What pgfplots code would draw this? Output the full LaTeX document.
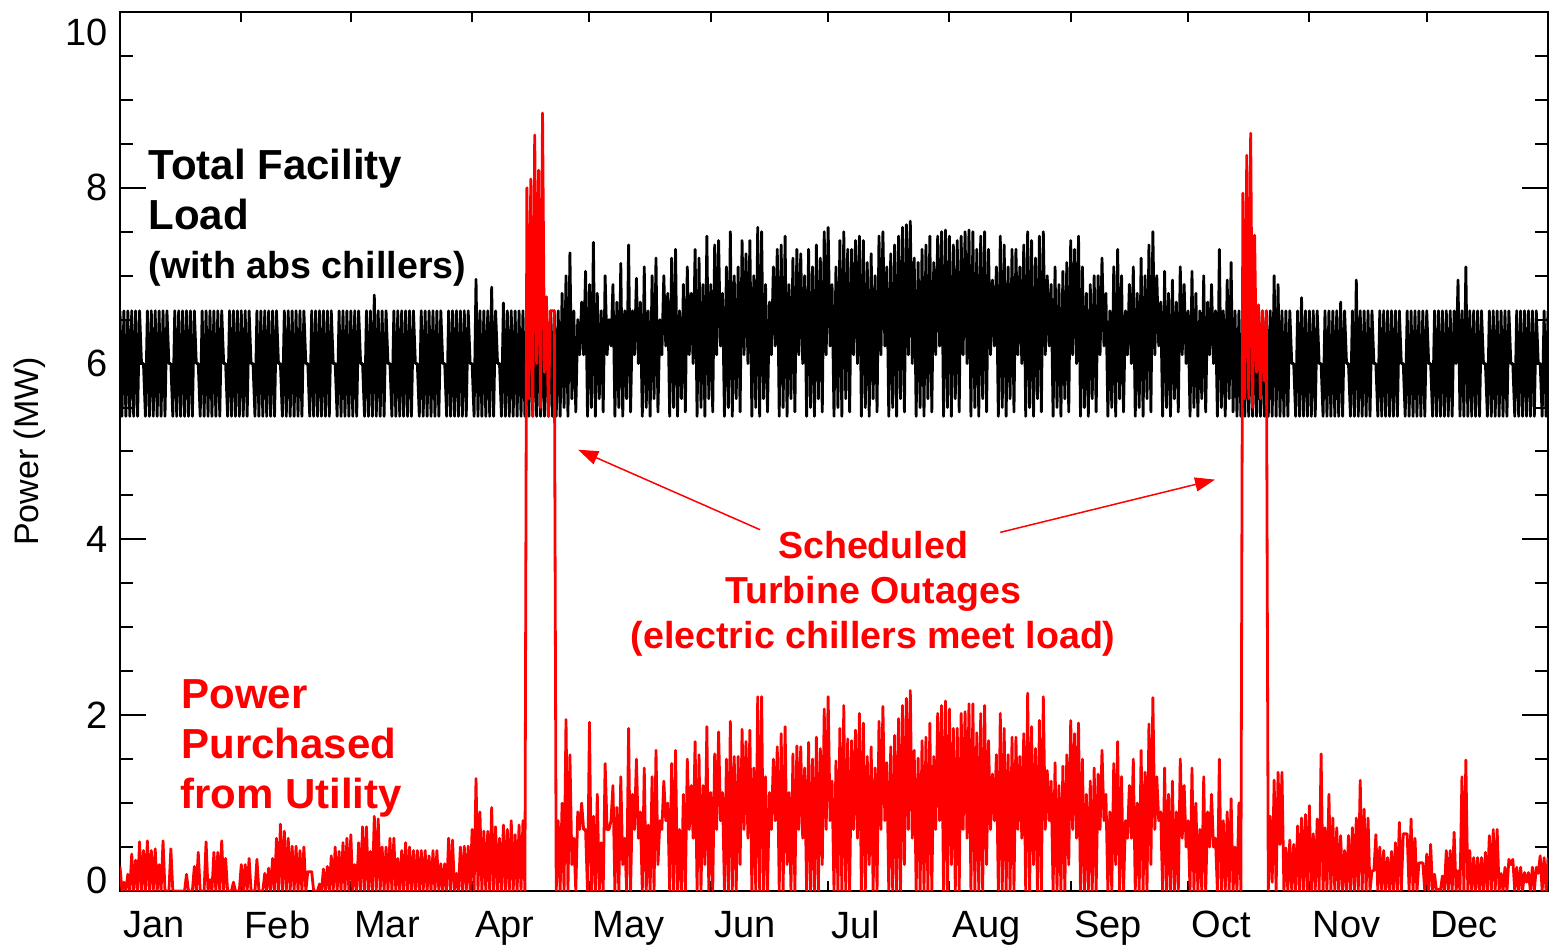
\documentclass[border=0pt]{standalone}
\usepackage{fontspec}
\setmainfont{Liberation Sans}
\usepackage{pgfplots}
\pgfplotsset{compat=1.18}
\usepackage{pgfplotstable}
\usetikzlibrary{arrows.meta}
% half-day samples: row 2d = day d (daily peak), row 2d+1 = day d+0.5 (night)
% b = total facility load (MW), r = power purchased from utility (MW)
\pgfplotstableread[row sep=\\]{
b r\\
6.6 0.28\\ 5.4 0\\
6.6 0.1\\ 5.4 0\\
6.6 0.19\\ 5.4 0\\
6.6 0.42\\ 5.4 0\\
6.6 0.35\\ 5.4 0\\
6.6 0.56\\ 6.0 0\\
6.0 0.46\\ 5.4 0\\
6.6 0.57\\ 5.4 0\\
6.6 0.46\\ 5.4 0\\
6.6 0.48\\ 5.4 0\\
6.6 0.3\\ 5.4 0\\
6.6 0.57\\ 5.4 0\\
6.6 0\\ 6.0 0\\
6.0 0.48\\ 5.4 0\\
6.6 0\\ 5.4 0\\
6.6 0\\ 5.4 0\\
6.6 0\\ 5.4 0\\
6.6 0.19\\ 5.4 0\\
6.6 0\\ 5.4 0\\
6.6 0.28\\ 6.0 0\\
6.0 0.44\\ 5.4 0\\
6.6 0\\ 5.4 0\\
6.6 0.56\\ 5.4 0\\
6.6 0.13\\ 5.4 0\\
6.6 0.44\\ 5.4 0\\
6.6 0.44\\ 5.4 0\\
6.6 0.57\\ 6.0 0\\
6.0 0.37\\ 5.4 0\\
6.6 0\\ 5.4 0\\
6.6 0.1\\ 5.4 0\\
6.6 0\\ 5.4 0\\
6.6 0.3\\ 5.4 0\\
6.6 0.3\\ 5.4 0\\
6.6 0.37\\ 6.0 0\\
6.0 0\\ 5.4 0\\
6.6 0.36\\ 5.4 0\\
6.6 0\\ 5.4 0\\
6.6 0.2\\ 5.4 0\\
6.6 0.26\\ 5.4 0\\
6.6 0.37\\ 5.4 0\\
6.6 0.6\\ 6.0 0\\
6.0 0.76\\ 5.4 0\\
6.6 0.68\\ 5.4 0\\
6.6 0.6\\ 5.4 0\\
6.6 0.51\\ 5.4 0\\
6.6 0.51\\ 5.4 0\\
6.6 0.46\\ 5.4 0\\
6.6 0.5\\ 6.0 0\\
6.0 0.22\\ 5.4 0.22\\
6.6 0.22\\ 5.4 0\\
6.6 0\\ 5.4 0\\
6.6 0.08\\ 5.4 0\\
6.6 0.25\\ 5.4 0\\
6.6 0.28\\ 5.4 0\\
6.6 0.4\\ 6.0 0\\
6.0 0.5\\ 5.4 0\\
6.6 0.45\\ 5.4 0\\
6.6 0.55\\ 5.4 0\\
6.6 0.6\\ 5.4 0\\
6.6 0.64\\ 5.4 0\\
6.6 0.3\\ 5.4 0\\
6.6 0.55\\ 6.0 0\\
6.0 0.73\\ 5.4 0\\
6.6 0.73\\ 5.4 0\\
6.6 0.45\\ 5.4 0\\
6.78 0.85\\ 5.4 0\\
6.6 0.82\\ 5.4 0\\
6.6 0.5\\ 5.4 0\\
6.6 0.5\\ 6.0 0\\
6.0 0.6\\ 5.4 0\\
6.6 0.6\\ 5.4 0\\
6.6 0.37\\ 5.4 0\\
6.6 0.46\\ 5.4 0\\
6.6 0.55\\ 5.4 0\\
6.6 0.5\\ 5.4 0\\
6.6 0.46\\ 6.0 0\\
6.0 0.46\\ 5.4 0\\
6.6 0.46\\ 5.4 0\\
6.6 0.46\\ 5.4 0\\
6.6 0.4\\ 5.4 0\\
6.6 0.46\\ 5.4 0\\
6.6 0.46\\ 5.4 0\\
6.6 0.31\\ 6.0 0\\
6.0 0.31\\ 5.4 0\\
6.6 0.6\\ 5.4 0\\
6.6 0.58\\ 5.4 0\\
6.6 0.2\\ 5.4 0\\
6.6 0.5\\ 5.4 0\\
6.6 0.51\\ 5.4 0\\
6.6 0.51\\ 6.0 0\\
6.0 0.7\\ 5.4 0\\
6.96 1.28\\ 5.4 0\\
6.6 0.9\\ 5.4 0\\
6.6 0.68\\ 5.4 0\\
6.6 0.68\\ 5.4 0\\
6.87 0.95\\ 5.4 0\\
6.6 0.73\\ 6.0 0\\
6.0 0.6\\ 5.4 0\\
6.69 0.75\\ 5.4 0\\
6.6 0.7\\ 5.4 0\\
6.6 0.8\\ 5.4 0\\
6.6 0.64\\ 5.4 0\\
6.6 0.75\\ 5.4 0\\
6.6 0.8\\ 5.4 0\\
6.6 8.0\\ 5.4 5.6\\
6.6 8.1\\ 5.4 5.4\\
6.6 8.6\\ 5.4 6.0\\
6.6 8.2\\ 5.4 5.5\\
6.6 8.85\\ 5.4 5.9\\
6.6 6.76\\ 5.4 5.4\\
6.6 6.6\\ 5.4 6.6\\
6.6 6.6\\ 5.4 0\\
6.6 0.8\\ 5.4 0\\
6.8 1.0\\ 5.5 0\\
7.0 1.95\\ 5.4 0\\
7.26 1.55\\ 5.6 0.3\\
6.6 0.6\\ 5.45 0\\
6.5 0.9\\ 6.1 0.7\\
6.7 1.0\\ 6.1 0.7\\
7.05 0.7\\ 5.4 0\\
6.9 1.92\\ 5.5 0\\
7.38 0.85\\ 5.4 0\\
6.8 1.1\\ 5.6 0\\
6.6 0.55\\ 5.45 0\\
7.0 1.45\\ 6.1 0.7\\
6.5 0.7\\ 6.2 0.8\\
6.9 1.2\\ 5.4 0\\
6.7 0.95\\ 5.5 0\\
7.14 1.3\\ 5.4 0.3\\
6.6 0.6\\ 5.6 0\\
7.35 1.85\\ 5.45 0\\
6.6 1.1\\ 6.1 0.7\\
6.97 1.5\\ 6.0 0.6\\
6.7 0.9\\ 5.4 0\\
7.1 1.4\\ 5.5 0\\
6.6 0.75\\ 5.4 0\\
7.0 1.3\\ 5.6 0\\
7.2 1.6\\ 5.45 0.3\\
6.5 0.8\\ 6.1 0.7\\
7.0 1.25\\ 6.2 0.8\\
6.8 1.0\\ 5.4 0\\
7.2 1.45\\ 5.5 0\\
7.3 1.6\\ 5.4 0\\
6.6 0.7\\ 5.6 0\\
6.9 1.1\\ 5.45 0\\
7.1 1.5\\ 6.1 0.7\\
6.8 1.2\\ 6.0 0.6\\
7.3 1.7\\ 5.4 0\\
7.2 1.55\\ 5.5 0\\
6.9 1.2\\ 5.4 0.3\\
7.45 1.87\\ 5.6 0\\
6.9 1.12\\ 5.45 0\\
7.35 1.56\\ 6.1 0.7\\
7.4 1.81\\ 6.2 0.8\\
6.8 1.12\\ 5.4 0\\
7.1 1.5\\ 5.5 0\\
7.5 1.93\\ 5.4 0\\
7.0 1.53\\ 5.6 0\\
7.1 1.53\\ 5.45 0.3\\
7.4 1.84\\ 6.1 0.7\\
7.25 1.7\\ 6.0 0.6\\
7.4 1.83\\ 5.4 0\\
7.0 1.4\\ 5.5 0\\
7.55 2.21\\ 5.4 0\\
7.5 2.21\\ 5.6 0\\
6.9 1.3\\ 5.45 0\\
6.7 1.12\\ 6.1 0.7\\
7.1 1.5\\ 6.2 0.8\\
7.3 1.64\\ 5.4 0\\
7.35 1.79\\ 5.5 0\\
7.45 1.87\\ 5.4 0.3\\
6.9 1.12\\ 5.6 0\\
7.2 1.56\\ 5.45 0\\
7.3 1.65\\ 6.1 0.7\\
7.25 1.64\\ 6.0 0.6\\
7.0 1.4\\ 5.4 0\\
7.3 1.69\\ 5.5 0\\
7.1 1.5\\ 5.4 0\\
7.35 1.75\\ 5.6 0\\
7.2 1.62\\ 5.45 0.3\\
7.5 2.07\\ 6.1 0.7\\
7.55 2.21\\ 6.2 0.8\\
6.9 1.25\\ 5.4 0\\
7.1 1.48\\ 5.5 0\\
7.4 1.85\\ 5.4 0\\
7.5 2.11\\ 5.6 0\\
7.3 1.73\\ 5.45 0\\
7.3 1.71\\ 6.1 0.7\\
7.4 1.83\\ 6.0 0.6\\
7.45 2.02\\ 5.4 0\\
7.4 1.91\\ 5.5 0\\
7.15 1.53\\ 5.4 0.3\\
7.25 1.64\\ 5.6 0\\
7.0 1.4\\ 5.45 0\\
7.45 1.93\\ 6.1 0.7\\
7.5 2.1\\ 6.2 0.8\\
7.1 1.46\\ 5.4 0\\
7.25 1.64\\ 5.5 0\\
7.35 1.77\\ 5.4 0\\
7.45 1.96\\ 5.6 0\\
7.55 2.11\\ 5.45 0.3\\
7.58 2.19\\ 6.1 0.7\\
7.62 2.28\\ 6.0 0.6\\
7.2 1.6\\ 5.4 0\\
7.15 1.51\\ 5.5 0\\
7.3 1.71\\ 5.4 0\\
7.35 1.75\\ 5.6 0\\
7.45 1.91\\ 5.45 0\\
7.15 1.53\\ 6.1 0.7\\
7.45 2.02\\ 6.2 0.8\\
7.5 2.11\\ 5.4 0\\
7.52 2.16\\ 5.5 0\\
7.45 2.07\\ 5.4 0.3\\
7.35 1.85\\ 5.6 0\\
7.4 1.85\\ 5.45 0\\
7.45 2.02\\ 6.1 0.7\\
7.5 2.04\\ 6.0 0.6\\
7.52 2.13\\ 5.4 0\\
7.5 2.13\\ 5.5 0\\
7.3 1.8\\ 5.4 0\\
7.45 2.02\\ 5.6 0\\
7.5 2.11\\ 5.45 0.3\\
7.3 1.71\\ 6.1 0.7\\
6.95 1.33\\ 6.2 0.8\\
7.1 1.55\\ 5.4 0\\
7.45 2.02\\ 5.5 0\\
7.35 1.85\\ 5.4 0\\
7.1 1.55\\ 5.6 0\\
7.3 1.75\\ 5.45 0\\
7.3 1.75\\ 6.1 0.7\\
7.1 1.53\\ 6.0 0.6\\
7.35 1.79\\ 5.4 0\\
7.5 2.25\\ 5.5 0\\
7.4 1.87\\ 5.4 0.3\\
7.2 1.62\\ 5.6 0\\
7.45 1.94\\ 5.45 0\\
7.5 2.21\\ 6.1 0.7\\
7.0 1.37\\ 6.2 0.8\\
6.9 1.25\\ 5.4 0\\
7.1 1.46\\ 5.5 0\\
6.9 1.2\\ 5.4 0\\
7.05 1.42\\ 5.6 0\\
7.15 1.55\\ 5.45 0.3\\
7.4 1.94\\ 6.1 0.7\\
7.3 1.79\\ 6.0 0.6\\
7.45 1.91\\ 5.4 0\\
7.1 1.5\\ 5.5 0\\
6.8 1.1\\ 5.4 0\\
6.9 1.25\\ 5.6 0\\
7.0 1.4\\ 5.45 0\\
7.0 1.33\\ 6.1 0.7\\
7.2 1.6\\ 6.2 0.8\\
6.8 1.1\\ 5.4 0\\
6.6 0.9\\ 5.5 0\\
7.1 1.45\\ 5.4 0.3\\
7.3 1.7\\ 5.6 0\\
7.0 1.3\\ 5.45 0\\
6.6 0.8\\ 6.1 0.6\\
6.9 1.2\\ 6.0 0.6\\
7.1 1.5\\ 5.4 0\\
6.8 1.0\\ 5.5 0\\
7.2 1.6\\ 5.4 0\\
7.0 1.35\\ 5.6 0\\
7.35 1.9\\ 5.45 0.3\\
7.5 2.2\\ 6.1 0.7\\
7.0 1.3\\ 6.2 0.8\\
6.7 0.9\\ 5.4 0\\
7.05 1.4\\ 5.5 0\\
6.8 1.1\\ 5.4 0\\
6.95 1.25\\ 5.6 0\\
6.7 0.9\\ 5.45 0\\
7.1 1.5\\ 6.1 0.6\\
6.9 1.2\\ 6.0 0.5\\
6.6 0.8\\ 5.4 0\\
7.05 1.4\\ 5.5 0\\
6.8 1.0\\ 5.4 0\\
6.6 0.7\\ 5.6 0\\
7.0 1.3\\ 5.45 0\\
6.7 0.9\\ 6.1 0.5\\
6.9 1.1\\ 6.0 0.5\\
6.6 0.6\\ 5.4 0\\
7.3 1.5\\ 5.5 0\\
6.6 0.8\\ 5.4 0\\
6.95 0.9\\ 5.6 0\\
7.15 1.05\\ 5.45 0\\
6.6 0.5\\ 5.4 0\\
6.6 1.0\\ 5.4 0\\
6.6 7.94\\ 5.4 5.6\\
6.6 8.37\\ 5.4 5.6\\
6.6 8.62\\ 5.4 5.5\\
6.6 7.46\\ 5.4 5.9\\
6.6 6.67\\ 5.4 5.6\\
6.6 6.6\\ 5.4 5.8\\
6.6 6.6\\ 5.4 0\\
6.6 0.85\\ 5.4 0.1\\
7.0 1.26\\ 5.4 0\\
6.9 1.35\\ 5.4 0.53\\
6.6 1.35\\ 5.4 0\\
6.6 0.49\\ 5.4 0\\
6.6 0.58\\ 6.0 0\\
6.0 0.53\\ 5.4 0\\
6.6 0.74\\ 5.4 0\\
6.75 0.83\\ 5.4 0\\
6.6 0.87\\ 5.4 0\\
6.6 0.97\\ 5.4 0\\
6.6 0.65\\ 5.4 0\\
6.6 0.82\\ 6.0 0\\
6.0 1.56\\ 5.4 0\\
6.6 0.72\\ 5.4 0\\
6.6 1.1\\ 5.4 0\\
6.6 0.83\\ 5.4 0\\
6.6 0.72\\ 5.4 0\\
6.7 0.63\\ 5.4 0\\
6.6 0.46\\ 6.0 0\\
6.0 0.63\\ 5.4 0\\
6.6 0.72\\ 5.4 0\\
6.95 0.83\\ 5.4 0\\
6.6 1.26\\ 5.4 0\\
6.6 0.93\\ 5.4 0\\
6.6 0.83\\ 5.4 0\\
6.6 0.23\\ 6.0 0.23\\
6.0 0.64\\ 5.4 0\\
6.6 0.5\\ 5.4 0\\
6.6 0.46\\ 5.4 0\\
6.6 0.38\\ 5.4 0\\
6.6 0.45\\ 5.4 0\\
6.6 0.55\\ 5.4 0\\
6.6 0.78\\ 6.0 0\\
6.0 0.65\\ 5.4 0.65\\
6.6 0.65\\ 5.4 0\\
6.6 0.82\\ 5.4 0\\
6.6 0.6\\ 5.4 0\\
6.6 0.32\\ 5.4 0.32\\
6.6 0.32\\ 5.4 0\\
6.6 0.42\\ 6.0 0\\
6.0 0.53\\ 5.4 0\\
6.6 0.19\\ 5.4 0\\
6.6 0.02\\ 5.4 0\\
6.6 0.17\\ 5.4 0\\
6.6 0.46\\ 5.4 0\\
6.6 0.46\\ 5.4 0\\
6.6 0.67\\ 6.0 0\\
6.95 0.23\\ 5.4 0\\
6.6 1.3\\ 5.4 0\\
7.1 1.49\\ 5.4 0\\
6.6 0.46\\ 5.4 0\\
6.6 0.38\\ 5.4 0\\
6.6 0.38\\ 5.4 0\\
6.6 0.38\\ 6.0 0\\
6.0 0.44\\ 5.4 0\\
6.6 0.63\\ 5.4 0\\
6.6 0.7\\ 5.4 0\\
6.6 0.7\\ 5.4 0\\
6.6 0.2\\ 5.4 0\\
6.6 0.27\\ 5.4 0\\
6.6 0.36\\ 6.0 0.3\\
6.0 0.36\\ 5.4 0\\
6.6 0.27\\ 5.4 0\\
6.6 0.27\\ 5.4 0\\
6.6 0.21\\ 5.4 0.1\\
6.6 0.21\\ 5.4 0\\
6.6 0.27\\ 5.4 0\\
6.6 0.27\\ 6.0 0.2\\
6.0 0.4\\ 5.4 0\\
6.6 0.38\\ 5.4 0\\
6.6 0.38\\
}\loaddata
\newcommand{\bigbold}{\fontsize{21pt}{25pt}\selectfont\bfseries}
\newcommand{\midbold}{\fontsize{18.8pt}{22pt}\selectfont\bfseries}
\begin{document}
\begin{tikzpicture}
\path[use as bounding box] (-60pt,-27pt) rectangle (715pt,445.5pt);
\begin{axis}[
  name=ax, at={(0pt,0pt)}, anchor=south west,
  scale only axis, width=714pt, height=439.5pt,
  xmin=0, xmax=365, ymin=0, ymax=10,
  axis line style={line width=1.2pt},
  tick style={line width=1pt, black},
  tick align=inside,
  major tick length=13pt, minor tick length=6.5pt,
  xtick={0,31,59,90,120,151,181,212,243,273,304,334},
  xticklabels={Jan,Feb,Mar,Apr,May,Jun,Jul,Aug,Sep,Oct,Nov,Dec},
  xtick style={/pgfplots/major tick length=5pt},
  xticklabel style={anchor=north west, inner sep=0pt, yshift=-10pt, xshift=1.5pt, font=\fontsize{19pt}{22pt}\selectfont},
  ytick={0,2,4,6,8,10},
  yticklabels={{},2,4,6,8,{}},
  minor ytick={0.5,1,1.5,2.5,3,3.5,4.5,5,5.5,6.5,7,7.5,8.5,9,9.5},
  yticklabel style={anchor=east, inner sep=0pt, xshift=-6pt, font=\fontsize{19pt}{22pt}\selectfont},
  /pgf/number format/assume math mode=true,
  ylabel={Power (MW)},
  ylabel style={at={(axis description cs:-0.063,0.5)}, anchor=center, font=\fontsize{17pt}{20pt}\selectfont},
]
\addplot[black, line width=1.4pt, line join=round] table[x expr=\coordindex/2, y=b] {\loaddata};
\addplot[red, line width=1.4pt, line join=round] table[x expr=\coordindex/2, y=r] {\loaddata};
\node[anchor=base west, inner sep=0pt, font=\bigbold] at (axis cs:7.2,8.09) {Total Facility};
\node[anchor=base west, inner sep=0pt, font=\bigbold] at (axis cs:7.2,7.52) {Load};
\node[anchor=base west, inner sep=0pt, font=\midbold] at (axis cs:7.2,6.97) {(with abs chillers)};
\node[anchor=base west, inner sep=0pt, font=\bigbold, text=red] at (axis cs:15.6,2.08) {Power};
\node[anchor=base west, inner sep=0pt, font=\bigbold, text=red] at (axis cs:15.6,1.51) {Purchased};
\node[anchor=base west, inner sep=0pt, font=\bigbold, text=red] at (axis cs:15.3,0.94) {from Utility};
\node[anchor=base, inner sep=0pt, font=\midbold, text=red] at (axis cs:192.5,3.78) {Scheduled};
\node[anchor=base, inner sep=0pt, font=\midbold, text=red] at (axis cs:192.5,3.27) {Turbine Outages};
\node[anchor=base, inner sep=0pt, font=\midbold, text=red] at (axis cs:192.5,2.76) {(electric chillers meet load)};
\draw[red, line width=0.75pt, -{Triangle[length=10pt,width=7pt]}] (axis cs:163.6,4.11) -- (axis cs:117.1,5.02);
\draw[red, line width=0.75pt, -{Triangle[length=10pt,width=7pt]}] (axis cs:225.0,4.08) -- (axis cs:279.9,4.68);
\end{axis}
\node[anchor=east, inner sep=0pt, font=\fontsize{19pt}{22pt}\selectfont] at ([xshift=-6pt,yshift=5.5pt]ax.south west) {0};
\node[anchor=east, inner sep=0pt, font=\fontsize{19pt}{22pt}\selectfont] at ([xshift=-6pt,yshift=-10pt]ax.north west) {10};
\end{tikzpicture}
\end{document}
